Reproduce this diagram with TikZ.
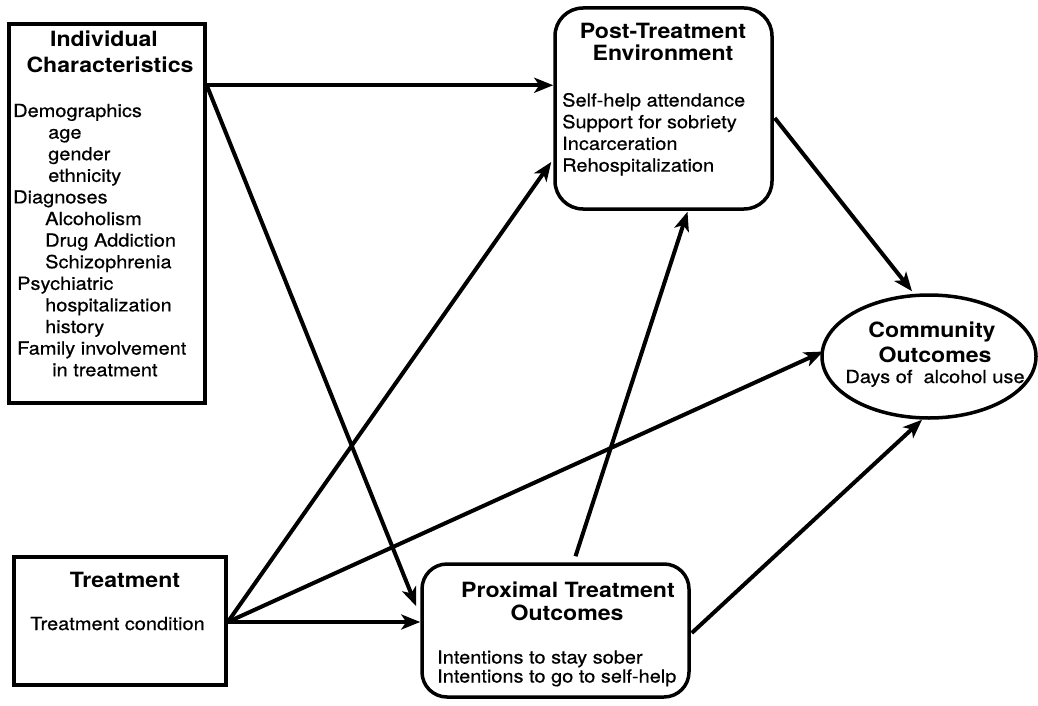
\documentclass[tikz,border=0pt]{standalone}
\usepackage{fontspec}
\setmainfont{TeX Gyre Heros}
\newfontfamily\bodyf[FakeStretch=1.11,FakeBold=0.6]{TeX Gyre Heros}
\newfontfamily\titlef[FakeStretch=1.1]{TeX Gyre Heros}
\usetikzlibrary{arrows.meta,shapes.geometric,calc}
\tikzset{
  box/.style={draw, line width=3.5pt, inner sep=0pt},
  rbox/.style={box, rounded corners=28pt},
  ttl/.style={font={\titlef\bfseries\fontsize{21}{23}\selectfont}, inner sep=0pt, anchor=base},
  txt/.style={font={\bodyf\fontsize{18}{21}\selectfont}, inner sep=0pt, anchor=base west},
  arr/.style={line width=4pt, -{Stealth[length=19pt,width=15pt,inset=5pt]}},
}
\begin{document}
\begin{tikzpicture}[x=1pt,y=-1pt]
\useasboundingbox (0,0) rectangle (1038,706);
% boxes
\node[box, minimum width=196pt, minimum height=379pt] (ic) at (107,213.5) {};
\node[box, minimum width=212pt, minimum height=128pt] (tr) at (120,621) {};
\node[rbox, minimum width=217pt, minimum height=201pt] (pt) at (663.5,108.5) {};
\node[rbox, rounded corners=25pt, minimum width=267pt, minimum height=133pt] (px) at (555.5,630.5) {};
\node[box, ellipse, minimum width=214pt, minimum height=123pt] (co) at (929,356.5) {};
% Individual characteristics text
\node[ttl] (icT1) at (104,47) {Individual};
\node[ttl] (icT2) at (110,72.5) {Characteristics};
\foreach \t/\x [count=\i from 0] in {Demographics/13, age/48, gender/48, ethnicity/48, Diagnoses/13, Alcoholism/45, Drug Addiction/45, Schizophrenia/45, Psychiatric/17, hospitalization/45, history/45, Family involvement/17, in treatment/52}
  \node[txt] (icL\i) at (\x,117+21.6*\i) {\t};
% Treatment text
\node[ttl] (trT) at (125,587) {Treatment};
\node[txt] (trL) at (30,630) {Treatment condition};
% Post-treatment environment
\node[ttl] (ptT1) at (663,39) {Post-Treatment};
\node[ttl] (ptT2) at (663,60.5) {Environment};
\foreach \t [count=\i from 0] in {Self-help attendance, Support for sobriety, Incarceration, Rehospitalization}
  \node[txt] (ptL\i) at (562,106.5+21.7*\i) {\t};
% Proximal treatment outcomes
\node[ttl] (pxT1) at (568,597.5) {Proximal Treatment};
\node[ttl] (pxT2) at (567,620.5) {Outcomes};
\node[txt] (pxL1) at (437,663.5) {Intentions to stay sober};
\node[txt] (pxL2) at (437,682.5) {Intentions to go to self-help};
% Community outcomes
\node[ttl] (coT1) at (932,337) {Community};
\node[ttl] (coT2) at (935,362) {Outcomes};
\node[txt, anchor=base] (coL) at (935,383) {Days of~ alcohol use};
% connector anchors
\coordinate (icO) at ($(ic.north east)+(0,63)$);
\coordinate (trO) at ($(tr.east)+(0,1)$);
% connectors
\draw[arr] (icO) -- (icO -| pt.west);
\draw[arr] (icO) -- ($(px.north west)+(-4,44)$);
\draw[arr] (trO) -- (trO -| px.west);
\draw[arr] (trO) -- ($(pt.west)+(-2,53.5)$);
\draw[arr] (trO) -- ($(co.west)+(3,-5)$);
\draw[arr] ($(pt.east)+(1,9.5)$) -- ($(co.north)+(-17,-2)$);
\draw[arr] ($(px.north)+(20,-6)$) -- ($(pt.south)+(24,1)$);
\draw[arr] ($(px.east)+(1,2.5)$) -- ($(co.south)+(-7,0)$);
\end{tikzpicture}
\end{document}
